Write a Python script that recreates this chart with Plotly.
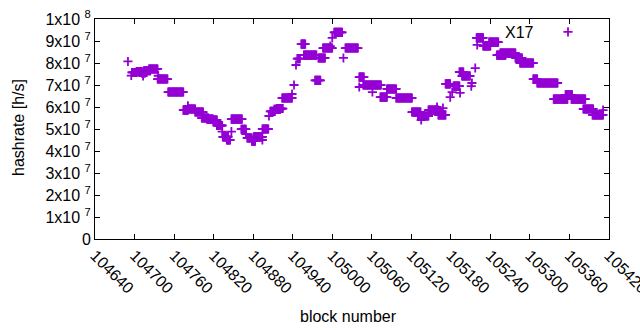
import plotly.graph_objects as go

# Runs of consecutive blocks sharing the same hashrate estimate
run_start = [104690, 104695, 104696, 104703, 104711, 104713, 104714, 104722, 104736, 104735,
             104751, 104774, 104781, 104781, 104792, 104802, 104810, 104819, 104825, 104833,
             104847, 104834, 104840, 104847, 104862, 104869, 104871, 104878, 104881, 104894,
             104894, 104904, 104906, 104912, 104916, 104924, 104939, 104942, 104945, 104947,
             104953, 104957, 104974, 104979, 104986, 104997, 105000, 105003, 105017, 105020,
             105041, 105041, 105047, 105048, 105061, 105062, 105073, 105083, 105097, 105121,
             105130, 105135, 105146, 105159, 105168, 105161, 105172, 105179, 105182, 105184,
             105194, 105193, 105197, 105211, 105212, 105217, 105219, 105220, 105229, 105238,
             105250, 105255, 105278, 105285, 105305, 105311, 105336, 105354, 105363, 105381,
             105395, 105411]
run_end = [104690, 104695, 104703, 104711, 104716, 104713, 104724, 104735, 104736, 104750,
           104774, 104781, 104781, 104792, 104804, 104812, 104819, 104825, 104833, 104833,
           104847, 104842, 104845, 104863, 104869, 104869, 104878, 104883, 104894, 104894,
           104903, 104904, 104913, 104921, 104925, 104939, 104939, 104942, 104945, 104951,
           104959, 104976, 104982, 104989, 105000, 104997, 105000, 105015, 105017, 105039,
           105048, 105041, 105047, 105061, 105061, 105074, 105083, 105097, 105121, 105134,
           105146, 105135, 105161, 105159, 105168, 105172, 105179, 105179, 105182, 105193,
           105194, 105199, 105209, 105211, 105212, 105217, 105229, 105220, 105240, 105252,
           105263, 105278, 105288, 105305, 105311, 105342, 105357, 105364, 105384, 105396,
           105411, 105411]
run_value_mhs = [80.7, 74.3, 75.7, 76.1, 75.5, 74.1, 76.5, 77.3, 74.2, 72.7,
                 66.8, 58.6, 60.5, 59.1, 57.7, 55.0, 54.5, 54.1, 51.6, 48.8,
                 48.8, 46.4, 45.0, 54.5, 49.9, 47.7, 45.9, 44.5, 46.4, 45.0,
                 50.0, 55.9, 58.0, 58.9, 59.3, 64.1, 65.9, 70.0, 79.1, 82.0,
                 88.6, 83.6, 72.1, 82.3, 86.8, 87.7, 91.4, 93.9, 82.3, 86.8,
                 73.6, 69.1, 70.0, 70.0, 66.8, 70.0, 64.5, 68.2, 64.1, 57.7,
                 55.9, 54.1, 58.6, 60.0, 59.5, 56.4, 70.5, 64.5, 66.8, 69.5,
                 66.4, 75.9, 74.1, 69.5, 70.9, 77.7, 91.4, 88.2, 87.7, 89.5,
                 83.6, 84.5, 82.3, 80.0, 72.7, 70.9, 63.6, 65.5, 63.6, 59.1,
                 56.4, 58.6]

y_tick_vals = [0, 1e7, 2e7, 3e7, 4e7, 5e7, 6e7, 7e7, 8e7, 9e7, 1e8]
y_tick_text = ["0"] + ["%dx10 <sup>7</sup>" % i for i in range(1, 10)] + ["1x10 <sup>8</sup>"]
x_tick_vals = list(range(104640, 105421, 60))
x_tick_text = [str(v) for v in x_tick_vals]
series_name = "X17"

blocks, rates = [], []
for s, e, v in zip(run_start, run_end, run_value_mhs):
    for b in range(s, e + 1):
        blocks.append(b)
        rates.append(v * 1e6)

FONT = "Liberation Sans, Arial, sans-serif"
COLOR = "#9400d3"
L, R, T, B = 95, 31, 19, 91
PW, PH = 640 - L - R, 330 - T - B

fig = go.Figure()
fig.add_trace(go.Scatter(
    x=blocks, y=rates, mode="markers", name="",
    marker=dict(symbol="cross-thin-open", size=6.5,
                line=dict(color=COLOR, width=1.8), color=COLOR),
    showlegend=True,
))

axis_common = dict(showline=True, linecolor="black", linewidth=1, mirror="ticks",
                   ticks="inside", ticklen=5, tickcolor="black", showgrid=False,
                   zeroline=False, automargin=False, ticklabeloverflow="allow",
                   tickfont=dict(family=FONT, size=16, color="black"))

fig.update_xaxes(range=[104640, 105420.001], tickmode="array", tickvals=x_tick_vals,
                 ticktext=x_tick_text, tickangle=45, **axis_common)
fig.update_yaxes(range=[0, 1e8], tickmode="array", tickvals=y_tick_vals,
                 ticktext=y_tick_text, **axis_common)

fig.update_layout(
    width=640, height=330,
    margin=dict(l=L, r=R, t=T, b=B),
    plot_bgcolor="white", paper_bgcolor="white",
    font=dict(family=FONT, size=16, color="black"),
    legend=dict(x=(548 - L) / PW, y=1 + 4 / PH, xanchor="left", yanchor="top",
                bgcolor="rgba(0,0,0,0)", itemwidth=30),
    annotations=[
        dict(text=series_name, xref="paper", yref="paper",
             x=(519 - L) / PW, y=(239 - 32) / PH, showarrow=False,
             xanchor="center", yanchor="middle",
             font=dict(family=FONT, size=16, color="black")),
        dict(text="hashrate [h/s]", xref="paper", yref="paper",
             x=(18 - L) / PW, y=(239 - 128) / PH, textangle=-90, showarrow=False,
             xanchor="center", yanchor="middle",
             font=dict(family=FONT, size=16, color="black")),
        dict(text="block number", xref="paper", yref="paper",
             x=(348 - L) / PW, y=(239 - 316) / PH, showarrow=False,
             xanchor="center", yanchor="middle",
             font=dict(family=FONT, size=16, color="black")),
    ],
)

fig.write_html("out.html", config={"displayModeBar": False})
with open("out.html", "r", encoding="utf-8") as f:
    html = f.read()
html = html.replace("<head>", "<head><style>html,body{margin:0;padding:0;overflow:hidden}</style>", 1)
with open("out.html", "w", encoding="utf-8") as f:
    f.write(html)
